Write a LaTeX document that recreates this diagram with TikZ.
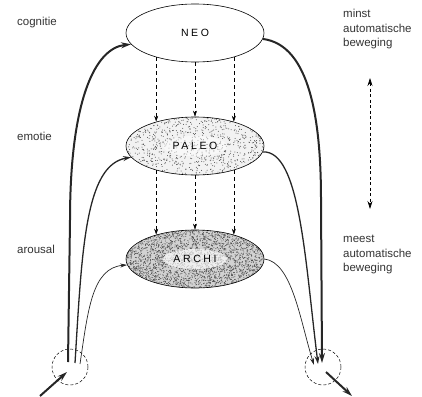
\documentclass[tikz,border=0pt]{standalone}
\usepackage{fontspec}
\setmainfont{Liberation Sans}
\newfontfamily\spacedfont[LetterSpace=25]{Liberation Sans}
\usetikzlibrary{arrows.meta,shapes.geometric}

\begin{document}
\begin{tikzpicture}[x=1pt, y=-1pt, font=\fontsize{11.5}{14.5}\selectfont, every node/.style={inner sep=0pt}]
        \tikzset{
            brain/.style={draw, ellipse, minimum width=138pt, minimum height=58pt, line width=0.6pt, font=\spacedfont\fontsize{10.5}{10.5}\selectfont},
            stipple/.style 2 args={path picture={
                \foreach \k in {1,...,#1}
                    \fill[black!70] (path picture bounding box.center) ++(rand*70,rand*30) circle (0.5);
                \fill[white, opacity=#2] (path picture bounding box.center) ellipse [x radius=32, y radius=10];}},
            lbl/.style={anchor=base west, text=black!80, align=left},
            heavy/.style={-{Stealth[length=10pt,width=6pt]}, line width=2pt, black!85},
            medium/.style={-{Stealth[length=8pt,width=5pt]}, line width=1.3pt, black!85},
            light/.style={-{Stealth[length=7pt,width=4pt]}, line width=0.7pt, black!85},
            feed/.style={-{Stealth[length=6pt,width=4pt]}, dash pattern=on 4pt off 3pt, line width=0.5pt},
            ring/.style={draw, circle, dash pattern=on 3pt off 2pt, minimum size=36pt, line width=0.5pt}
        }
        \pgfmathsetseed{7}
        \useasboundingbox (0,0) rectangle (422,396);

        \node[brain, fill=white] (neo) at (195,33) {NEO};
        \node[brain, fill=gray!10, stipple={1000}{0.5}] (paleo) at (195,146) {PALEO};
        \node[brain, fill=gray!35, stipple={3200}{0.65}] (archi) at (195,259) {ARCHI};

        \node[lbl] (cog) at (17,26) {cognitie};
        \node[lbl] (emo) at (17,140) {emotie};
        \node[lbl] (aro) at (17,253) {arousal};
        \node[lbl, anchor=north west] (minst) at (343,9) {minst\\automatische\\beweging};
        \node[lbl, anchor=north west] (meest) at (343,235) {meest\\automatische\\beweging};

        \node[ring] (inring) at (70,367) {};
        \node[ring] (outring) at (323,367) {};
        \coordinate (src) at (40,396);
        \coordinate (sink) at (352,396);

        % top-down control between the levels
        \foreach \a/\b in {212/148, 270/90, 328/32} {
            \draw[feed] (neo.\a) -- (paleo.\b);
            \draw[feed] (paleo.\a) -- (archi.\b);
        }

        % input side
        \draw[heavy] (src) -- ([shift={(-3,5)}]inring.center);
        \draw[heavy] ([shift={(-2,-5)}]inring.center) -- (70,220) .. controls (70,100) and (95,48) .. (neo.190);
        \draw[medium] ([shift={(5,-4)}]inring.center) .. controls (82,250) and (85,165) .. (paleo.190);
        \draw[light] ([shift={(10,-3)}]inring.center) .. controls (88,310) and (92,268) .. (archi.185);

        % output side
        \draw[heavy] (neo.355) .. controls (310,45) and (321,120) .. (321,200) -- ([shift={(-1,-4)}]outring.center);
        \draw[medium] (paleo.355) .. controls (300,150) and (305,260) .. ([shift={(-5,-3)}]outring.center);
        \draw[light] (archi.east) .. controls (292,262) and (300,320) .. ([shift={(-9,-2)}]outring.center);
        \draw[heavy] ([shift={(3,5)}]outring.center) -- (sink);

        % degree of automation
        \coordinate (hi) at (370,78);
        \coordinate (lo) at (370,209);
        \draw[{Stealth[length=8pt,width=5pt]}-{Stealth[length=8pt,width=5pt]}, dash pattern=on 3pt off 2.5pt, line width=0.6pt] (hi) -- (lo);
    \end{tikzpicture}
\end{document}
